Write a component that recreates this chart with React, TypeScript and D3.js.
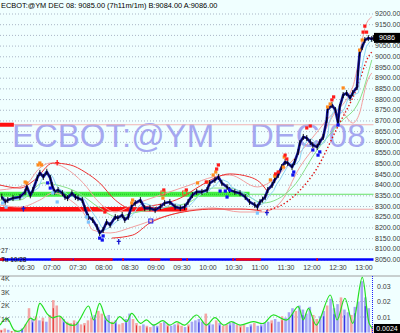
import React from "react";
import * as d3 from "d3";

// ---------- DATA ----------
const priceTimes = ["06:02","06:06","06:09","06:15","06:23","06:29","06:31","06:35","06:38","06:43","06:46","06:50","06:54","06:58","07:00","07:03","07:07","07:12","07:15","07:18","07:23","07:27","07:30","07:35","07:38","07:42","07:47","07:52","07:55","07:59","08:03","08:07","08:13","08:16","08:21","08:24","08:28","08:32","08:36","08:42","08:47","08:53","08:59","09:05","09:10","09:16","09:22","09:28","09:33","09:37","09:42","09:47","09:53","09:59","10:02","10:08","10:12","10:16","10:22","10:25","10:31","10:37","10:43","10:48","10:54","10:57","11:00","11:03","11:06","11:09","11:14","11:17","11:21","11:25","11:29","11:32","11:37","11:40","11:44","11:46","11:50","11:54","11:58","12:01","12:06","12:09","12:13","12:17","12:18","12:23","12:27","12:30","12:32","12:36","12:40","12:44","12:47","12:52","12:53","12:55","12:58","13:01","13:05","13:09","13:11"];
const priceValues = [8344,8320,8328,8337,8342,8366,8390,8350,8375,8431,8455,8436,8460,8431,8398,8366,8375,8360,8342,8337,8360,8342,8337,8328,8290,8249,8235,8202,8174,8188,8225,8211,8249,8244,8258,8235,8249,8300,8314,8328,8290,8290,8281,8296,8314,8319,8296,8290,8296,8319,8351,8366,8366,8375,8407,8422,8436,8407,8389,8375,8366,8360,8342,8319,8305,8295,8319,8330,8342,8375,8398,8422,8445,8482,8506,8501,8482,8506,8553,8594,8623,8618,8599,8585,8576,8599,8623,8702,8749,8772,8749,8690,8763,8819,8828,8805,8828,8856,8922,9015,9043,9076,9085,9081,9085];

const redUpper: [string, number][] = [["06:00",8398],["06:23",8384],["06:40",8422],["07:01",8501],["07:21",8492],["07:38",8459],["07:55",8408],["08:13",8328],["08:30",8291],["08:53",8300],["09:28",8337],["09:51",8394],["10:08",8431],["10:25",8450],["10:48",8436],["11:03",8398],["11:09",8365]];
const redLower: [string, number][] = [["08:09",8150],["08:33",8164],["08:53",8221],["09:16",8258],["09:39",8277],["10:08",8286],["10:37",8286],["11:02",8277]];
const redStop: [string, number][] = [["11:08",8281],["11:23",8300],["11:43",8361],["12:06",8478],["12:29",8665],["12:52",8852],["13:05",8997],["13:09",9020]];
const pinkUpper: [string, number][] = [["06:00",8375],["06:29",8398],["06:46",8478],["06:58",8501],["07:15",8478],["07:36",8408],["07:55",8314],["08:13",8272],["08:33",8305],["09:05",8351],["09:39",8398],["10:06",8436],["10:25",8445],["10:57",8389],["11:03",8394],["11:38",8515],["12:17",8702],["12:47",8856],["13:03",9155],["13:09",9184]];
const pinkLower: [string, number][] = [["06:00",8305],["06:23",8295],["06:46",8328],["07:01",8361],["07:21",8328],["07:38",8258],["07:47",8188],["08:07",8174],["08:33",8202],["09:08",8249],["10:06",8291],["10:37",8272],["11:03",8272],["11:23",8314],["11:46",8482],["12:09",8609],["12:32",8749],["12:47",8688],["12:55",8735],["13:03",8875],["13:09",8922]];
const greenMid: [string, number][] = [["06:00",8328],["06:23",8328],["06:50",8408],["07:06",8398],["07:29",8365],["07:55",8291],["08:15",8249],["08:33",8267],["09:08",8291],["09:39",8319],["10:06",8384],["10:25",8384],["10:48",8342],["11:03",8314],["11:38",8389],["12:06",8562],["12:32",8688],["12:55",8796],["13:09",8983]];

const greenLevel = 8355;
const redLevel = 8285;
const topRedLevel = 8680;
const greenLevelEnd = "10:48";
const redLevelEnd = "09:36";
const topRedLevelEnd = "06:16";

const orangeDots: [string, number][] = [["06:29",8412],["06:31",8408],["06:44",8492],["06:46",8501],["06:48",8492],["08:32",8314],["08:33",8328],["09:08",8337],["09:48",8408],["09:59",8412],["10:06",8445],["10:09",8459],["11:12",8422],["11:17",8440],["11:27",8482],["11:28",8529],["12:18",8763],["12:21",8777],["12:36",8852],["12:55",9029],["12:58",9076]];
const redDots: [string, number][] = [["09:09",8375],["09:35",8375],["09:58",8412],["10:10",8473],["10:12",8492],["11:18",8450],["11:21",8459],["11:29",8538],["11:31",8520],["11:54",8665],["11:58",8674],["12:23",8796],["12:25",8810],["12:59",9113],["13:01",9141],["13:03",9113]];
const blueDots: [string, number][] = [["06:55",8408],["06:58",8384],["07:55",8150],["07:58",8141],["07:59",8160],["10:14",8370],["10:20",8370],["10:22",8342],["10:25",8375],["11:38",8445],["11:39",8459],["12:01",8562],["12:07",8538],["12:09",8553],["12:30",8679]];
const lightBlueDots: [string, number][] = [["06:03",8314],["06:07",8295],["07:01",8361],["07:06",8319],["07:40",8249],["07:42",8225],["10:57",8267]];
const blueCrosses: [string, number][] = [["06:27",8286],["08:17",8132],["11:08",8267]];
const redCrosses: [string, number][] = [["07:06",8501]];
const redSquares: [string, number][] = [["08:01",8272]];
const orangeBoxes: [string, number][] = [["09:08",8361],["09:33",8361]];
const blueBoxes: [string, number][] = [["08:54",8230]];

const timeTicks = ["06:30","07:00","07:30","08:00","08:30","09:00","09:30","10:00","10:30","11:00","11:30","12:00","12:30","13:00"];
const stripRed: [string, string][] = [["06:00","06:05"],["06:59","07:24"],["07:25","08:10"],["08:21","08:23"],["08:53","09:05"],["09:16","09:30"],["09:35","09:37"],["10:28","10:30"],["10:32","11:01"],["12:05","12:07"]];

const volValues = [0.2,0.3,0.2,0.1,0.2,0.1,0.3,0.6,1.8,1.0,1.2,0.9,1.1,0.8,1.3,2.4,2.0,1.2,1.0,0.8,0.7,0.9,0.8,0.6,0.7,0.9,1.1,1.3,1.6,1.4,1.2,1.3,0.8,0.9,0.6,0.7,1.0,1.4,1.0,0.7,0.5,0.6,0.5,0.4,0.6,0.5,0.7,0.8,0.6,0.5,0.6,0.7,0.5,0.4,0.6,0.8,0.9,1.0,0.8,1.4,0.7,0.6,0.9,0.7,0.5,0.6,0.7,0.8,0.6,0.5,0.6,0.4,0.6,0.7,0.5,0.6,0.7,0.8,0.9,1.0,0.8,1.2,1.1,1.5,1.8,1.6,2.0,1.7,1.4,1.9,1.3,1.0,1.2,1.6,2.0,2.5,1.8,2.1,2.6,1.7,1.5,1.3,1.9,2.3,3.8,2.6,1.8,0.5];
const volDir = "ddudduud" + "dudududd" + "ddudddud" + "dddudduu" + "dudduudd" + "dudduudu" + "duuddudu" + "uuuduudu" + "dduudddu" + "uduuuudu" + "uduuuduu" + "uudduudu" + "uuduuduu" + "uuud";
const volBinMinutes = 4;
const volTicks = [4, 3, 2, 1];

const oscTimes = ["06:00","06:08","06:17","06:25","06:35","06:40","06:46","06:54","07:00","07:09","07:17","07:27","07:42","07:48","07:55","08:03","08:11","08:18","08:26","08:32","08:42","08:49","08:57","09:08","09:16","09:24","09:33","09:47","09:58","10:08","10:18","10:27","10:37","10:52","11:04","11:15","11:31","11:44","11:50","11:56","12:05","12:21","12:29","12:38","12:47","12:58","13:06","13:10"];
const oscValues = [0.0048,0.0092,0.0012,0.0016,0.0092,0.0081,0.0188,0.0124,0.0095,0.0106,0.0059,0.0048,0.0171,0.0081,0.0188,0.0081,0.0059,0.0102,0.0070,0.0124,0.0059,0.0081,0.0048,0.0076,0.0048,0.0070,0.0048,0.0113,0.0048,0.0096,0.0048,0.0070,0.0048,0.0070,0.0059,0.0113,0.0081,0.0167,0.0081,0.0156,0.0048,0.0242,0.0081,0.0221,0.0059,0.0356,0.0059,0.0024];
const oscTicks = [0.03, 0.02, 0.01];

const titleText = "ECBOT:@YM  DEC 08: 9085.00 (7h11m/1m)  B:9084.00 A:9086.00";
const lastPrice = 9086;
const lastOsc = "0.0024";

// ---------- HELPERS ----------
const tm = (s: string) => {
  const [h, m] = s.split(":").map(Number);
  return (h - 6) * 60 + m;
};
const FONT = "'Liberation Sans', Arial, Helvetica, sans-serif";

export default function App() {
  const x = d3.scaleLinear().domain([0, 431]).range([0, 373.5]);
  const y = d3.scaleLinear().domain([8050, 9200]).range([259.5, 13.5]);
  const vy = d3.scaleLinear().domain([0, 4]).range([332.5, 278.5]);
  const oy = d3.scaleLinear().domain([0, 0.03]).range([332.5, 286]);
  const plotRight = x(431);

  const band = d3
    .line<[string, number]>()
    .x((d) => x(tm(d[0])))
    .y((d) => y(d[1]))
    .curve(d3.curveMonotoneX);

  const priceLine = d3
    .line<number>()
    .x((_, i) => x(tm(priceTimes[i])))
    .y((d) => y(d));

  const fast = priceValues.map((_, i) => {
    const s = priceValues.slice(Math.max(0, i - 2), i + 1);
    return d3.mean(s) as number;
  });

  const oscLine = d3
    .line<number>()
    .x((_, i) => x(tm(oscTimes[i])))
    .y((d) => oy(d))
    .curve(d3.curveCatmullRom.alpha(0.5));

  const yTicks = d3.range(8050, 9201, 50);
  const P = (d: [string, number]) => [x(tm(d[0])), y(d[1])];

  const dots = (arr: [string, number][], fill: string, key: string) =>
    arr.map((d, i) => {
      const [cx, cy] = P(d);
      return <rect key={key + i} x={cx - 1.6} y={cy - 1.6} width={3.2} height={3.2} fill={fill} />;
    });

  const crosses = (arr: [string, number][], stroke: string, key: string) =>
    arr.map((d, i) => {
      const [cx, cy] = P(d);
      return (
        <path key={key + i} d={`M${cx - 2},${cy - 0.5}H${cx + 2}M${cx},${cy - 3}V${cy + 2.5}`} stroke={stroke} strokeWidth={1.3} fill="none" />
      );
    });

  const boxes = (arr: [string, number][], stroke: string, key: string) =>
    arr.map((d, i) => {
      const [cx, cy] = P(d);
      return <rect key={key + i} x={cx - 2} y={cy - 2} width={4} height={4} fill="none" stroke={stroke} strokeWidth={1} />;
    });

  const barW = x(volBinMinutes) - x(0) - 0.9;

  return (
    <svg width={400} height={333} style={{ position: "absolute", left: 0, top: 0, display: "block" }} fontFamily={FONT}>
      <rect width={400} height={333} fill="#f0ffff" />

      {/* title */}
      <text x={1} y={8} fontSize={7.4} fill="#000">{titleText}</text>

      {/* grid */}
      {yTicks.map((v) => (
        <line key={"g" + v} x1={0} x2={plotRight + 1} y1={y(v) + 0.5} y2={y(v) + 0.5} stroke="#a9b6c6" strokeWidth={1} strokeDasharray="1 2" />
      ))}

      {/* watermark */}
      <text x={12} y={147} fontSize={33} fill="#9898ee" fillOpacity={0.85}>ECBOT:@YM</text>
      <text x={250} y={147} fontSize={33} fill="#9898ee" fillOpacity={0.85}>DEC 08</text>

      {/* level lines */}
      <line x1={0} x2={plotRight} y1={y(topRedLevel)} y2={y(topRedLevel)} stroke="#f2b4b4" strokeWidth={1} />
      <line x1={0} x2={plotRight} y1={y(greenLevel)} y2={y(greenLevel)} stroke="#66e066" strokeWidth={1} />
      <line x1={0} x2={plotRight} y1={y(redLevel)} y2={y(redLevel)} stroke="#f0a8a8" strokeWidth={1} />
      <rect x={0} y={y(topRedLevel) - 2} width={x(tm(topRedLevelEnd))} height={4} fill="#ff1010" />
      <rect x={0} y={y(greenLevel) - 2.5} width={x(tm(greenLevelEnd))} height={5} fill="#44f044" />
      <line x1={0} x2={x(tm(greenLevelEnd))} y1={y(greenLevel)} y2={y(greenLevel)} stroke="#22b822" strokeWidth={1} strokeDasharray="1 1" />
      <rect x={0} y={y(redLevel) - 2.2} width={x(tm(redLevelEnd))} height={4.5} fill="#ff1010" />

      {/* bands */}
      <path d={band(pinkUpper) || ""} fill="none" stroke="#f3a0a0" strokeWidth={1} />
      <path d={band(pinkLower) || ""} fill="none" stroke="#f3a0a0" strokeWidth={1} />
      <path d={band(greenMid) || ""} fill="none" stroke="#88e088" strokeWidth={1} />
      <path d={band(redUpper) || ""} fill="none" stroke="#ee3030" strokeWidth={1} />
      <path d={band(redLower) || ""} fill="none" stroke="#ee3030" strokeWidth={1} />
      <path d={band(redStop) || ""} fill="none" stroke="#e01010" strokeWidth={1.4} strokeDasharray="1.4 2.2" />

      {/* fast average */}
      <path d={priceLine(fast) || ""} fill="none" stroke="#8fd6f4" strokeWidth={1} transform="translate(1.5,0)" />

      {/* price */}
      <path d={priceLine(priceValues) || ""} fill="none" stroke="#1414a8" strokeWidth={2.6} strokeLinejoin="round" />
      {priceValues.map((v, i) => {
        const cx = x(tm(priceTimes[i]));
        const cy = y(v);
        return <line key={"t" + i} x1={cx} x2={cx} y1={cy - 3} y2={cy + 3} stroke="#000" strokeWidth={0.9} />;
      })}
      <path d={priceLine(priceValues) || ""} fill="none" stroke="#000" strokeWidth={0.7} strokeLinejoin="round" />

      {/* markers */}
      {dots(lightBlueDots, "#7cc4ff", "lb")}
      {dots(blueDots, "#1010ee", "bd")}
      {dots(orangeDots, "#ff8a1c", "od")}
      {dots(redDots, "#ff1a1a", "rd")}
      {dots(redSquares, "#ff1a1a", "rs")}
      {crosses(blueCrosses, "#1818d0", "bc")}
      {crosses(redCrosses, "#ff1a1a", "rc")}
      {boxes(orangeBoxes, "#e85a20", "ob")}
      {boxes(blueBoxes, "#2020ee", "bb")}

      {/* last price */}
      <rect x={374} y={y(lastPrice) - 5} width={26} height={10} fill="#000" />
      <text x={387} y={y(lastPrice) + 2.6} fontSize={7.2} fill="#fff" textAnchor="middle">{lastPrice}</text>

      {/* y axis labels */}
      {yTicks.map((v) =>
        Math.abs(v - lastPrice) < 25 ? null : (
          <text key={"yl" + v} x={375} y={y(v) + 2.6} fontSize={7} fill="#3a3a3a">{v.toFixed(2)}</text>
        )
      )}

      {/* time strip */}
      <line x1={0} x2={plotRight} y1={259.5} y2={259.5} stroke="#0000ff" strokeWidth={2.4} />
      {stripRed.map((s, i) => (
        <line key={"sr" + i} x1={x(tm(s[0]))} x2={x(tm(s[1]))} y1={259.5} y2={259.5} stroke="#ff0000" strokeWidth={2.4} />
      ))}
      <text x={1} y={253} fontSize={6.5} fill="#333">27</text>
      <text x={1} y={262} fontSize={6.5} fill="#000">Tu 10/28</text>
      {timeTicks.map((t) => (
        <text key={"xl" + t} x={x(tm(t))} y={269.5} fontSize={7} fill="#3a3a3a" textAnchor="middle">{t}</text>
      ))}

      {/* lower panel */}
      <line x1={0} x2={400} y1={276} y2={276} stroke="#a0a0a0" strokeWidth={1} />
      {oscTicks.map((v) => (
        <line key={"og" + v} x1={0} x2={plotRight} y1={oy(v)} y2={oy(v)} stroke="#a9b6c6" strokeWidth={1} strokeDasharray="1 2" />
      ))}
      {volValues.map((v, i) => {
        const bx = x(i * volBinMinutes);
        const up = volDir[i] === "u";
        return (
          <g key={"v" + i}>
            <rect x={bx} y={vy(v)} width={barW} height={vy(0) - vy(v)} fill={up ? "#a6a6f4" : "#f4a6a6"} />
            {i % 3 === 0 ? (
              <line x1={bx + barW / 2} x2={bx + barW / 2} y1={vy(v * 0.75)} y2={vy(0)} stroke={up ? "#2020e0" : "#e02020"} strokeWidth={0.9} />
            ) : null}
          </g>
        );
      })}
      <path d={oscLine(oscValues) || ""} fill="none" stroke="#22e022" strokeWidth={1.2} />
      <line x1={plotRight - 1} x2={plotRight - 1} y1={276} y2={333} stroke="#2020ff" strokeWidth={1} strokeDasharray="1 1" />
      {volTicks.map((v) => (
        <text key={"vl" + v} x={1} y={vy(v) + 2.5} fontSize={7} fill="#3a3a3a">{v + "K"}</text>
      ))}
      {oscTicks.map((v) => (
        <text key={"ol" + v} x={377} y={oy(v) + 2.5} fontSize={7} fill="#3a3a3a">{v.toFixed(2)}</text>
      ))}
      <rect x={374} y={324} width={26} height={9} fill="#000" />
      <text x={387} y={331} fontSize={7} fill="#fff" textAnchor="middle">{lastOsc}</text>
    </svg>
  );
}
